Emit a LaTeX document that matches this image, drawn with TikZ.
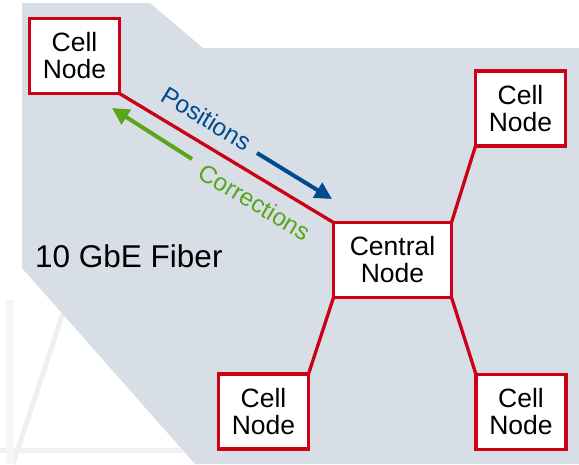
\documentclass[tikz,border=0pt]{standalone}
\usepackage{fontspec}
\setmainfont{Liberation Sans}
\usetikzlibrary{arrows.meta}

\definecolor{panelgray}{RGB}{215,222,230}
\definecolor{linkred}{RGB}{204,0,22}
\definecolor{posblue}{RGB}{0,74,142}
\definecolor{corrgreen}{RGB}{90,165,30}
\definecolor{ghost}{RGB}{240,240,240}
\definecolor{ghostlight}{RGB}{246,246,246}

\tikzset{
  nodebox/.style={draw=linkred, line width=3.3pt, fill=white, align=center,
    minimum width=90pt, minimum height=75pt, inner sep=0pt, outer sep=0pt,
    font=\fontsize{26.5pt}{27pt}\selectfont},
  link/.style={draw=linkred, line width=3.3pt},
  flowarrow/.style={line width=4pt, -{Triangle[length=17pt,width=17pt]}},
  flowlabel/.style={font=\fontsize{24.5pt}{26pt}\selectfont, rotate=-31, inner sep=0pt}
}

\begin{document}
\begin{tikzpicture}[x=1pt, y=-1pt]
\useasboundingbox (0,0) rectangle (579,464);

% faint background strokes in the open corner
\draw[ghost, line width=5pt] (63,313) -- (13,464);
\draw[ghost, line width=5pt] (0,450) -- (183,450);
\draw[ghostlight, line width=8pt] (10,300) -- (10,464);

% grey panel behind the network
\fill[panelgray] (22,3) -- (150,3) -- (203,48) -- (579,48) -- (579,464)
  -- (195,464) -- (22,268) -- cycle;

% nodes
\node[nodebox] (tl) at (74.5,56) {Cell\\Node};
\node[nodebox] (tr) at (520.5,108.5) {Cell\\Node};
\node[nodebox, minimum width=118pt] (cn) at (392.5,260) {Central\\Node};
\node[nodebox] (bl) at (263.5,411.5) {Cell\\Node};
\node[nodebox] (br) at (521,412) {Cell\\Node};

% fibre links
\draw[link] (tl.south east) -- (cn.north west);
\draw[link] (cn.north east) -- (tr.south west);
\draw[link] (cn.south west) -- (bl.north east);
\draw[link] (cn.south east) -- (br.north west);

% data flow along the upper link
\coordinate (posA) at (257,153);
\coordinate (posB) at (332,199);
\coordinate (corA) at (192,159);
\coordinate (corB) at (112,108);
\draw[flowarrow, posblue] (posA) -- (posB);
\draw[flowarrow, corrgreen] (corA) -- (corB);

\node[flowlabel, text=posblue] (poslbl) at (206.5,118.5) {Positions};
\node[flowlabel, text=corrgreen] (corlbl) at (255,202) {Corrections};

\node[anchor=base west, inner sep=0pt, font=\fontsize{31.5pt}{33pt}\selectfont]
  (fiber) at (35,267) {10 GbE Fiber};
\end{tikzpicture}
\end{document}
